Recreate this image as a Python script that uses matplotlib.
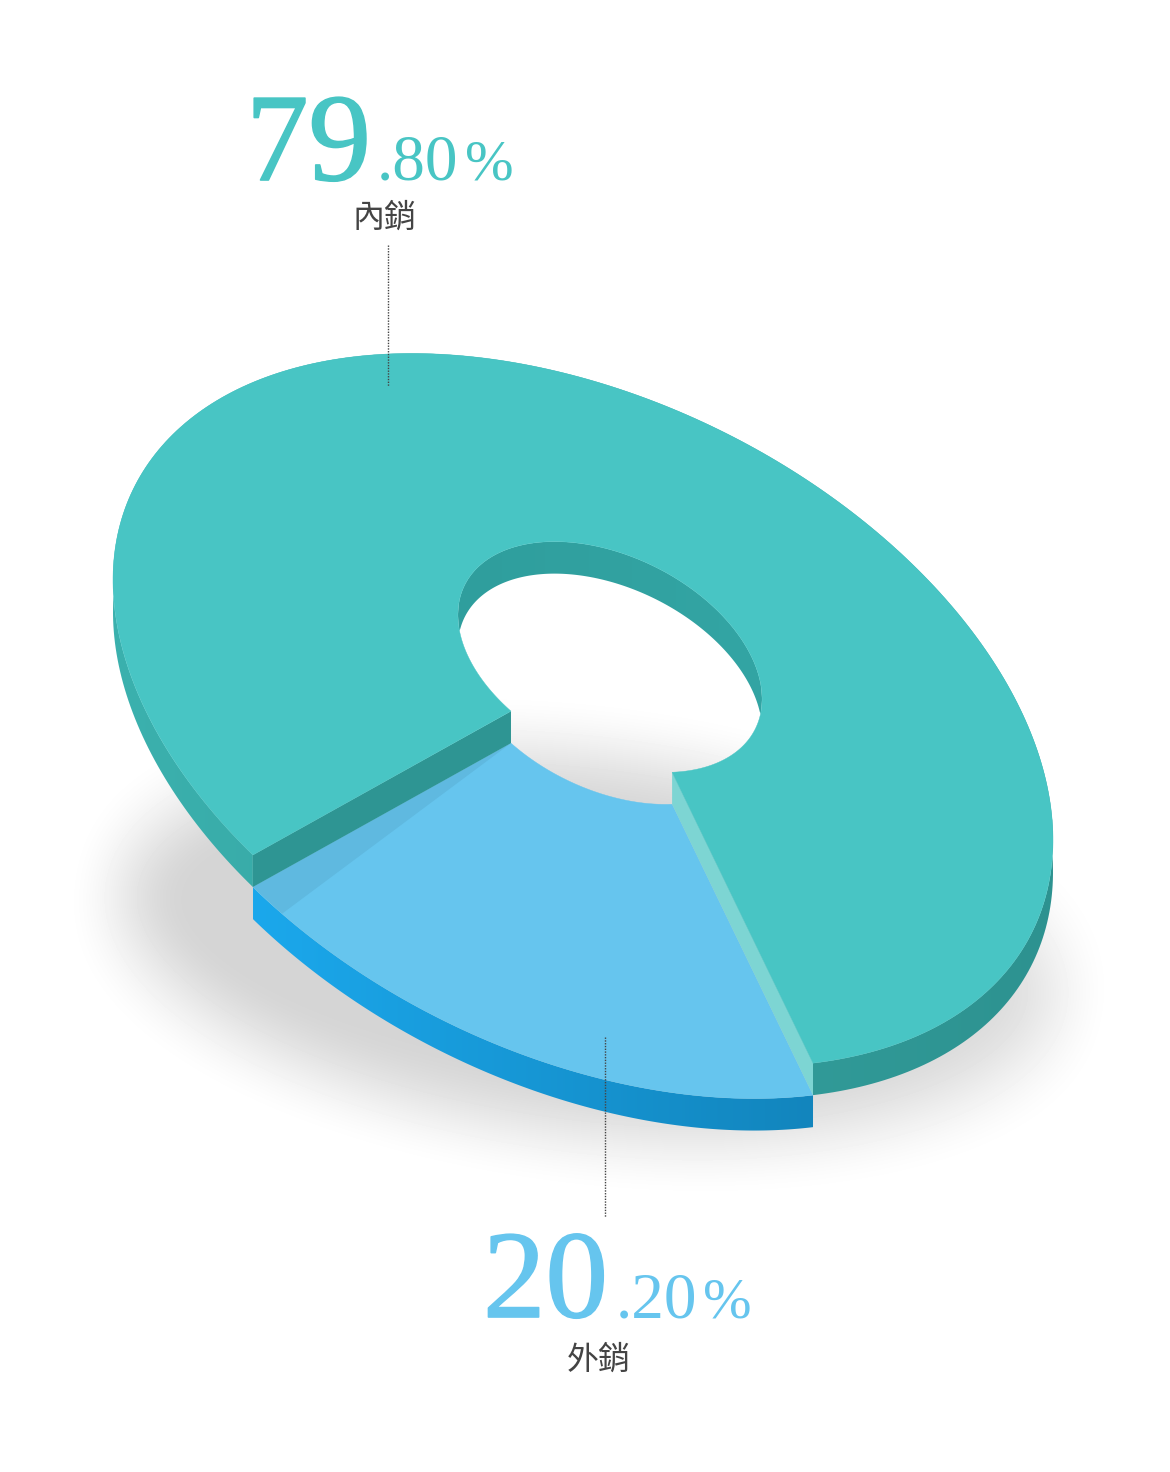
import numpy as np
import matplotlib
matplotlib.use("Agg")
import matplotlib.pyplot as plt
import matplotlib.patheffects as pe
from matplotlib.colors import to_rgb
from matplotlib.patches import Polygon

#data
labels = ["內銷", "外銷"]
shares = [79.80, 20.20]
colors = ["#48c5c4", "#66c5ee"]

W, H = 1170, 1472
depth = 32

# disc shape (pixels, y down)
outer_c = (583, 710)
inner_c = (610, 657)
inner_scale = 0.3236
shape = np.array([[470, 0], [130, 332]], dtype=float)

# where the small slice starts on the disc, picture is slightly off a true circle
start = 60.7
sweep = 360 * shares[1] / 100
end = start + sweep + 1.2
inner_start = start + 5.2
inner_end = end - 4.0


def ring(center, scale, t0, t1, dy=0, n=300):
    t = np.radians(np.linspace(t0, t1, n))
    p = np.vstack([np.cos(t), np.sin(t)])
    xy = (shape * scale) @ p
    return np.column_stack([xy[0] + center[0], xy[1] + center[1] + dy])


def outer(t0, t1, dy=0):
    return ring(outer_c, 1.0, t0, t1, dy)


def inner(t0, t1, dy=0):
    return ring(inner_c, inner_scale, t0, t1, dy)


def gradient_poly(ax, pts, c_left, c_right, z):
    # horizontal colour ramp clipped to a polygon
    x0, x1 = pts[:, 0].min(), pts[:, 0].max()
    y0, y1 = pts[:, 1].min(), pts[:, 1].max()
    ramp = np.linspace(to_rgb(c_left), to_rgb(c_right), 256)[None, :, :]
    im = ax.imshow(ramp, extent=(x0, x1, y1, y0), aspect="auto", zorder=z, interpolation="bilinear")
    im.set_clip_path(Polygon(pts, closed=True, transform=ax.transData))
    return im


fig = plt.figure(figsize=(W / 100, H / 100), dpi=100)
ax = fig.add_axes([0, 0, 1, 1])

# soft shadow under the disc: blurred tilted ellipse, paler to the right
yy, xx = np.mgrid[0:H, 0:W] + 0.5
ang = np.radians(7)
a0, b0, blur = 468, 188, 62
dx, dy = xx - 590, yy - 945
u = dx * np.cos(ang) + dy * np.sin(ang)
v = -dx * np.sin(ang) + dy * np.cos(ang)
r = np.sqrt((u / a0) ** 2 + (v / b0) ** 2)
g = np.sqrt((u / a0 ** 2) ** 2 + (v / b0 ** 2) ** 2) / np.maximum(r, 1e-6)
d = (r - 1) / np.maximum(g, 1e-6)
s = np.clip((blur - d) / (2 * blur), 0, 1)
s = s * s * (3 - 2 * s)
fade = np.interp(xx, [700, 1100], [1.0, 0.75])
ax.imshow(1 - 0.165 * s * fade, cmap="gray", vmin=0, vmax=1, extent=(0, W, H, 0), aspect="auto", zorder=0)

# outer side walls
blue_side = np.vstack([outer(start, end, depth), outer(end, start, 2 * depth)])
gradient_poly(ax, blue_side, "#1ba8ec", "#1285bd", 1)
teal_side = np.vstack([outer(end, start + 360), outer(start + 360, end, depth)])
gradient_poly(ax, teal_side, "#3bb1ae", "#2d9290", 1)

# blue top face
blue_top = np.vstack([outer(start, end, depth), inner(inner_end, inner_start, depth)])
ax.add_patch(Polygon(blue_top, closed=True, fc=colors[1], ec=colors[1], lw=0.3, zorder=2))

# shade thrown on the blue face by the teal cut
a = outer(end, end, depth)[0]
b = inner(inner_end, inner_end, depth)[0]
c = outer(end - 4.8, end - 4.8, depth)[0]
ax.add_patch(Polygon([a, b, c], closed=True, fc="#5fb9e0", ec="none", zorder=3))

# cut faces of the teal slice
p0 = outer(end, end)[0]
p1 = inner(inner_end, inner_end)[0]
ax.add_patch(Polygon([p0, p1, p1 + [0, depth], p0 + [0, depth]], closed=True, fc="#2e9593", ec="none", zorder=3))
q0 = inner(inner_start, inner_start)[0]
q1 = outer(start, start)[0]
ax.add_patch(Polygon([q0, q1, q1 + [0, depth], q0 + [0, depth]], closed=True, fc="#7dd5d3", ec="none", zorder=3))

# wall inside the hole: top edge of the hole, down by depth but not past the hole
up = inner(180, 360)
low = inner(180, 0)
wx = np.linspace(up[:, 0].min(), up[:, 0].max(), 400)
y_up = np.interp(wx, up[:, 0], up[:, 1])
y_low = np.interp(wx, low[:, 0], low[:, 1])
y_wall = np.minimum(y_up + depth, y_low)
wall = np.vstack([np.column_stack([wx, y_up]), np.column_stack([wx[::-1], y_wall[::-1]])])
gradient_poly(ax, wall, "#2f9e9d", "#33a5a4", 3)

# teal top face
teal_top = np.vstack([outer(end, start + 360), inner(inner_start + 360, inner_end)])
ax.add_patch(Polygon(teal_top, closed=True, fc=colors[0], ec=colors[0], lw=0.3, zorder=4))

# leader lines
ax.plot([388, 388], [245, 386], color="#444444", lw=1, ls=(0, (1, 1)), zorder=5)
ax.plot([604.5, 604.5], [1037, 1217], color="#444444", lw=1, ls=(0, (1, 1)), zorder=5)

# value labels
serif = "Liberation Serif"
cjk = ["Noto Sans CJK TC", "DejaVu Sans"]
spots = [(246, 180, 377, 465, 385, 218), (483, 1317, 616, 703, 599, 1360)]
for i, (x_big, base, x_small, x_pct, x_lab, y_lab) in enumerate(spots):
    whole, frac = f"{shares[i]:.2f}".split(".")
    big = ax.text(x_big, base, whole, family=serif, fontsize=90, color=colors[i], ha="left", va="baseline", zorder=6)
    big.set_path_effects([pe.withStroke(linewidth=1.2, foreground=colors[i])])
    ax.text(x_small, base, "." + frac, family=serif, fontsize=47, color=colors[i], ha="left", va="baseline", zorder=6)
    ax.text(x_pct, base, "%", family=serif, fontsize=42, color=colors[i], ha="left", va="baseline", zorder=6)
    ax.text(x_lab, y_lab, labels[i], family=cjk, fontsize=23, color="#444444", ha="center", va="center", zorder=6)

ax.set_xlim(0, W)
ax.set_ylim(H, 0)
ax.axis("off")
fig.savefig("out.png", dpi=100, facecolor="white")
